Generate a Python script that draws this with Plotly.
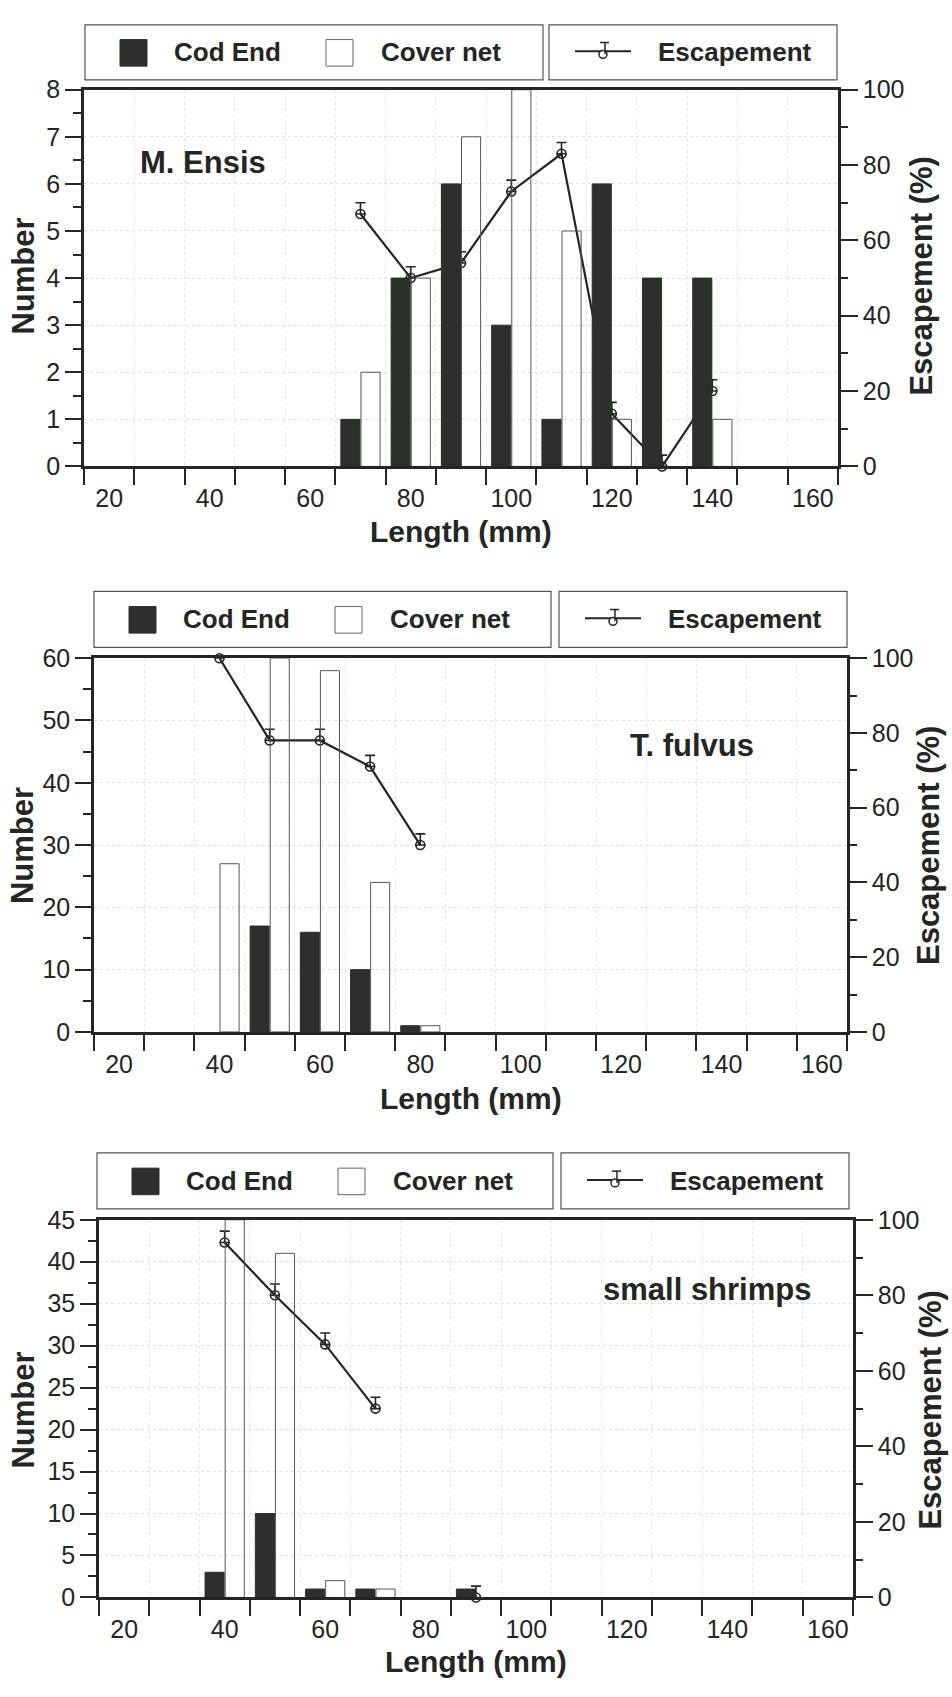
import plotly.graph_objects as go

W, H = 952, 1697

# ---------------- data ----------------
tick_lengths = [20, 40, 60, 80, 100, 120, 140, 160]
bin_edges = [15, 25, 35, 45, 55, 65, 75, 85, 95, 105, 115, 125, 135, 145, 155, 165]

ens_len = [70, 80, 90, 100, 110, 120, 130, 140]
ens_cod = [1, 4, 6, 3, 1, 6, 4, 4]
ens_cover = [2, 4, 7, 8, 5, 1, None, 1]
ens_esc = [67, 50, 54, 73, 83, 14, 0, 20]

fulv_len = [40, 50, 60, 70, 80]
fulv_cod = [None, 17, 16, 10, 1]
fulv_cover = [27, 60, 58, 24, 1]
fulv_esc = [100, 78, 78, 71, 50]

shr_len = [40, 50, 60, 70, 80, 90]
shr_cod = [3, 10, 1, 1, None, 1]
shr_cover = [45, 41, 2, 1, None, None]
shr_esc = [94, 80, 67, 50, None, 0]

panels = [
    dict(name="M. Ensis", x=ens_len, cod=ens_cod, cover=ens_cover, esc=ens_esc,
         ymax=8, dtick=1, minor=0.5),
    dict(name="T. fulvus", x=fulv_len, cod=fulv_cod, cover=fulv_cover, esc=fulv_esc,
         ymax=60, dtick=10, minor=5),
    dict(name="small shrimps", x=shr_len, cod=shr_cod, cover=shr_cover, esc=shr_esc,
         ymax=45, dtick=5, minor=2.5),
]

# ---------------- layout geometry (pixels) ----------------
geom = [
    dict(plot=(84, 838, 77, 460), legL=(85, 543), legR=(549, 837), legY=(11, 67),
         lab=(203, 151), ytitle=(24, 922, 267), xtitle=526),
    dict(plot=(94, 847, 655, 1035), legL=(94, 551), legR=(559, 847), legY=(587, 644),
         lab=(692, 744), ytitle=(22, 928, 846), xtitle=1103),
    dict(plot=(99, 853, 1226, 1610), legL=(97, 553), legR=(561, 849), legY=(1158, 1215),
         lab=(707, 1297), ytitle=(24, 931, 1420), xtitle=1675),
]

INK = "#232623"
DARK = "#2b302b"
FONT = "Liberation Sans, Arial, Helvetica, sans-serif"
ERR = 3


def px(x):
    return x / W


def py(y):
    return 1 - y / H


fig = go.Figure()
layout = dict(width=W, height=H, margin=dict(l=0, r=0, t=0, b=0),
              paper_bgcolor="white", plot_bgcolor="white", showlegend=False,
              barmode="group", bargap=0.2, bargroupgap=0.05,
              font=dict(family=FONT, size=25, color=INK))
shapes = []
annotations = []

for i, (p, g) in enumerate(zip(panels, geom)):
    n = i + 1
    xa = "x" if n == 1 else f"x{n}"
    yb_id = 2 * n - 1
    yo_id = 2 * n
    yb = "y" if yb_id == 1 else f"y{yb_id}"
    yo = f"y{yo_id}"
    x0, x1, t, b = g["plot"]

    # escapement line (base axis, drawn beneath bars)
    fig.add_trace(go.Scatter(
        x=p["x"], y=p["esc"], xaxis=xa, yaxis=yb, mode="lines+markers",
        line=dict(color=INK, width=2.2),
        marker=dict(symbol="circle-open", size=9, color=INK, line=dict(width=1.6, color=INK)),
        error_y=dict(type="data", symmetric=False, array=[ERR] * len(p["x"]),
                     arrayminus=[0] * len(p["x"]), width=5, thickness=1.6, color=INK),
        cliponaxis=False, connectgaps=False, name="Escapement"))
    fig.add_trace(go.Bar(
        x=p["x"], y=p["cod"], xaxis=xa, yaxis=yo, name="Cod End",
        marker=dict(color=DARK, line=dict(color=DARK, width=1))))
    fig.add_trace(go.Bar(
        x=p["x"], y=p["cover"], xaxis=xa, yaxis=yo, name="Cover net",
        marker=dict(color="rgba(255,255,255,0)", line=dict(color="#555", width=1))))

    xkey = "xaxis" if n == 1 else f"xaxis{n}"
    ybkey = "yaxis" if yb_id == 1 else f"yaxis{yb_id}"
    yokey = f"yaxis{yo_id}"

    layout[xkey] = dict(
        domain=[px(x0), px(x1)], anchor=yb, range=[15, 165],
        tickmode="array", tickvals=tick_lengths, ticktext=[str(v) for v in tick_lengths],
        ticks="outside", ticklen=8, tickcolor="rgba(0,0,0,0)",
        showline=True, linewidth=3, linecolor=INK, mirror=True,
        showgrid=False, zeroline=False,
        tickfont=dict(size=25, color=INK),
        minor=dict(tickmode="array", tickvals=bin_edges, ticks="outside", ticklen=16,
                   tickwidth=1.8, tickcolor=INK, showgrid=True, gridcolor="#e3e3e3",
                   griddash="dot", gridwidth=1))
    layout[ybkey] = dict(
        domain=[py(b), py(t)], anchor=xa, side="right", range=[0, 100],
        tickmode="linear", tick0=0, dtick=20, ticks="outside", ticklen=17, tickwidth=2,
        tickcolor=INK, showline=True, linewidth=2.5, linecolor=INK,
        showgrid=False, zeroline=False, tickfont=dict(size=25, color=INK),
        minor=dict(dtick=10, ticks="outside", ticklen=7, tickwidth=2, tickcolor=INK))
    layout[yokey] = dict(
        overlaying=yb, anchor=xa, side="left", range=[0, p["ymax"]],
        tickmode="linear", tick0=0, dtick=p["dtick"], ticks="outside", ticklen=16,
        tickwidth=2, tickcolor=INK, showline=True, linewidth=2.5, linecolor=INK,
        showgrid=True, gridcolor="#dedede", griddash="dot", gridwidth=1,
        zeroline=False, tickfont=dict(size=25, color=INK),
        minor=dict(dtick=p["minor"], ticks="outside", ticklen=8, tickwidth=2, tickcolor=INK))

    # legend boxes
    ly0, ly1 = g["legY"]
    for (a, c) in (g["legL"], g["legR"]):
        shapes.append(dict(type="rect", xref="paper", yref="paper",
                           x0=px(a), x1=px(c), y0=py(ly1), y1=py(ly0),
                           line=dict(color="#555", width=1.2), fillcolor="rgba(0,0,0,0)"))
    L = g["legL"][0]
    R = g["legR"][0]
    cy = (ly0 + ly1) / 2
    # Cod End swatch
    shapes.append(dict(type="rect", xref="paper", yref="paper",
                       x0=px(L + 35), x1=px(L + 62), y0=py(cy + 14), y1=py(cy - 13),
                       line=dict(color=DARK, width=1), fillcolor=DARK))
    annotations.append(dict(text="<b>Cod End</b>", xref="paper", yref="paper",
                            x=px(L + 87), y=py(cy), xanchor="left", yanchor="middle",
                            showarrow=False, font=dict(size=26, color=INK)))
    # Cover net swatch
    shapes.append(dict(type="rect", xref="paper", yref="paper",
                       x0=px(L + 241), x1=px(L + 268), y0=py(cy + 14), y1=py(cy - 13),
                       line=dict(color="#666", width=1), fillcolor="white"))
    annotations.append(dict(text="<b>Cover net</b>", xref="paper", yref="paper",
                            x=px(L + 294), y=py(cy), xanchor="left", yanchor="middle",
                            showarrow=False, font=dict(size=26, color=INK)))
    # Escapement symbol
    shapes.append(dict(type="line", xref="paper", yref="paper",
                       x0=px(R + 26), x1=px(R + 82), y0=py(cy - 1), y1=py(cy - 1),
                       line=dict(color=INK, width=2)))
    shapes.append(dict(type="circle", xref="paper", yref="paper",
                       x0=px(R + 50), x1=px(R + 58), y0=py(cy + 6), y1=py(cy - 2),
                       line=dict(color=INK, width=1.5), fillcolor="white"))
    shapes.append(dict(type="line", xref="paper", yref="paper",
                       x0=px(R + 56), x1=px(R + 56), y0=py(cy + 2), y1=py(cy - 10),
                       line=dict(color=INK, width=1.5)))
    shapes.append(dict(type="line", xref="paper", yref="paper",
                       x0=px(R + 51), x1=px(R + 60), y0=py(cy - 10), y1=py(cy - 10),
                       line=dict(color=INK, width=1.5)))
    annotations.append(dict(text="<b>Escapement</b>", xref="paper", yref="paper",
                            x=px(R + 107), y=py(cy), xanchor="left", yanchor="middle",
                            showarrow=False, font=dict(size=26, color=INK)))

    # panel label
    annotations.append(dict(text=f"<b>{p['name']}</b>", xref="paper", yref="paper",
                            x=px(g["lab"][0]), y=py(g["lab"][1]), xanchor="center",
                            yanchor="middle", showarrow=False, font=dict(size=31, color=INK)))
    # axis titles
    yl, yr, ym = g["ytitle"]
    annotations.append(dict(text="<b>Number</b>", xref="paper", yref="paper",
                            x=px(yl), y=py(ym), xanchor="center", yanchor="middle",
                            textangle=-90, showarrow=False, font=dict(size=31, color=INK)))
    annotations.append(dict(text="<b>Escapement (%)</b>", xref="paper", yref="paper",
                            x=px(yr), y=py(ym), xanchor="center", yanchor="middle",
                            textangle=-90, showarrow=False, font=dict(size=31, color=INK)))
    annotations.append(dict(text="<b>Length (mm)</b>", xref="paper", yref="paper",
                            x=px((x0 + x1) / 2), y=py(g["xtitle"]), xanchor="center",
                            yanchor="middle", showarrow=False, font=dict(size=30, color=INK)))

layout["shapes"] = shapes
layout["annotations"] = annotations
fig.update_layout(**layout)

fig.write_html("out.html", config={"displayModeBar": False},
               post_script="document.body.style.margin='0';document.body.style.overflow='hidden';")
